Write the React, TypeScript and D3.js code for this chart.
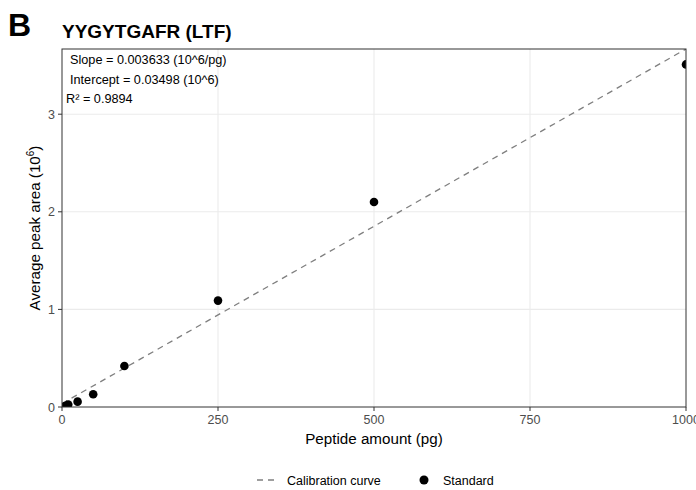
import React from "react";
import * as d3 from "d3";

// standards (pg, 10^6 area)
const amounts = [5, 10, 25, 50, 100, 250, 500, 1000];
const areas = [0.01, 0.025, 0.055, 0.13, 0.42, 1.09, 2.1, 3.51];
const xTicks = [0, 250, 500, 750, 1000];
const yTicks = [0, 1, 2, 3];
const slope = 0.003633;
const intercept = 0.03498;
const annotations = [
  "Slope = 0.003633 (10^6/pg)",
  "Intercept = 0.03498 (10^6)",
  "R\u00b2 = 0.9894",
];

const W = 696;
const H = 490;
const panel = { left: 62, right: 686, top: 49, bottom: 407 };
const font = "'Liberation Sans', Arial, sans-serif";

export default function App() {
  const x = d3.scaleLinear().domain([0, 1000]).range([panel.left, panel.right]);
  const y = d3
    .scaleLinear()
    .domain([0, intercept + slope * 1000])
    .range([panel.bottom, panel.top]);
  const fit = (v: number) => intercept + slope * v;
  const line = d3
    .line<number>()
    .x((d) => x(d))
    .y((d) => y(fit(d)));

  return (
    <svg
      width={W}
      height={H}
      style={{ position: "absolute", left: 0, top: 0, background: "#fff" }}
      fontFamily={font}
    >
      <defs>
        <clipPath id="pc">
          <rect
            x={panel.left}
            y={panel.top}
            width={panel.right - panel.left}
            height={panel.bottom - panel.top}
          />
        </clipPath>
      </defs>
      <text x={8} y={36} fontSize={32} fontWeight="bold">B</text>
      <text x={62} y={38} fontSize={19} fontWeight="bold">YYGYTGAFR (LTF)</text>

      {/* grid */}
      {xTicks.slice(1, -1).map((t) => (
        <line key={"gx" + t} x1={x(t)} x2={x(t)} y1={panel.top} y2={panel.bottom} stroke="#EBEBEB" strokeWidth={1.1} />
      ))}
      {yTicks.slice(1).map((t) => (
        <line key={"gy" + t} x1={panel.left} x2={panel.right} y1={y(t)} y2={y(t)} stroke="#EBEBEB" strokeWidth={1.1} />
      ))}

      <g clipPath="url(#pc)">
        <path
          d={line([0, 1000]) || ""}
          fill="none"
          stroke="#7F7F7F"
          strokeWidth={1.3}
          strokeDasharray="6,5"
        />
        {amounts.map((a, i) => (
          <circle key={a} cx={x(a)} cy={y(areas[i])} r={4.3} fill="#000" />
        ))}
      </g>

      {annotations.map((s, i) => (
        <text key={s} x={i < 2 ? 70 : 66} y={64 + i * 19.5} fontSize={12.7} fill="#000">
          {s}
        </text>
      ))}

      {/* panel border */}
      <rect
        x={panel.left}
        y={panel.top}
        width={panel.right - panel.left}
        height={panel.bottom - panel.top}
        fill="none"
        stroke="#333333"
        strokeWidth={1}
      />

      {/* axes ticks */}
      {xTicks.map((t) => (
        <g key={"xt" + t}>
          <line x1={x(t)} x2={x(t)} y1={panel.bottom} y2={panel.bottom + 4} stroke="#333333" />
          <text x={x(t)} y={panel.bottom + 17} textAnchor="middle" fontSize={12.5} fill="#4D4D4D">
            {t}
          </text>
        </g>
      ))}
      {yTicks.map((t) => (
        <g key={"yt" + t}>
          <line x1={panel.left - 4} x2={panel.left} y1={y(t)} y2={y(t)} stroke="#333333" />
          <text x={panel.left - 7} y={y(t) + 4.5} textAnchor="end" fontSize={12.5} fill="#4D4D4D">
            {t}
          </text>
        </g>
      ))}

      <text x={(panel.left + panel.right) / 2} y={444} textAnchor="middle" fontSize={15.2}>
        Peptide amount (pg)
      </text>
      <text
        transform={`translate(40, ${(panel.top + panel.bottom) / 2}) rotate(-90)`}
        textAnchor="middle"
        fontSize={15.2}
      >
        Average peak area (10<tspan fontSize={10} dy={-6}>6</tspan><tspan dy={6}>)</tspan>
      </text>

      {/* legend */}
      <line x1={257} x2={278} y1={480} y2={480} stroke="#7F7F7F" strokeWidth={1.3} strokeDasharray="6,5" />
      <text x={287} y={484.5} fontSize={12.5}>Calibration curve</text>
      <circle cx={424} cy={480} r={4.5} fill="#000" />
      <text x={443} y={484.5} fontSize={12.5}>Standard</text>
    </svg>
  );
}
